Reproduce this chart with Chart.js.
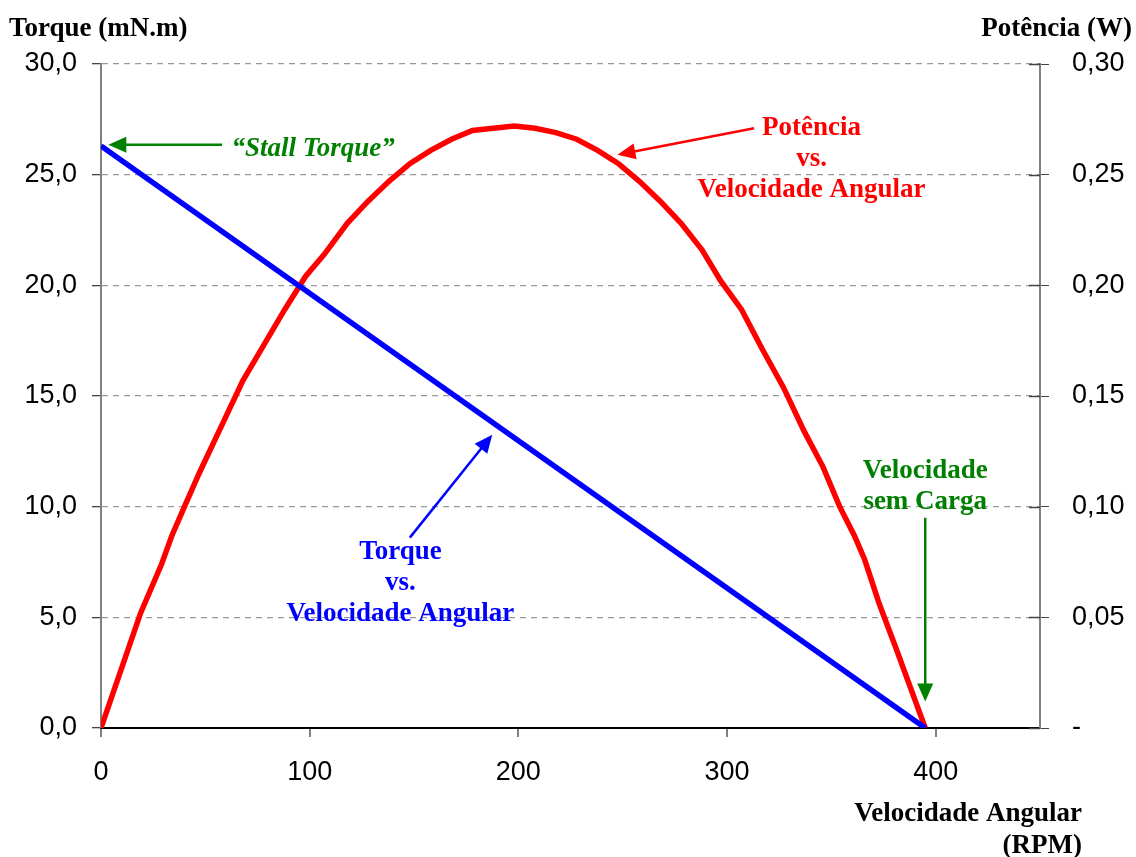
<!DOCTYPE html>
<html>
<head>
<meta charset="utf-8">
<script src="https://cdn.jsdelivr.net/npm/chart.js@4/dist/chart.umd.min.js"></script>
<style>
  html, body { margin: 0; padding: 0; background: #fff; }
  #wrap { width: 1136px; height: 857px; }
</style>
</head>
<body>
<div id="wrap"><canvas id="chart" width="1136" height="857"></canvas></div>
<script>
// Velocidade angular (RPM) / torque (mN.m)
const torqueRpm = [0, 395];
const torqueValues = [26.3, 0];

// Velocidade angular (RPM) / potência (W)
const powerRpm = [0, 19, 29, 34, 40, 47, 59, 68, 78, 88, 98, 107, 118, 128, 138, 148, 158, 168, 178, 188,
   198, 208, 218, 228, 238, 248, 258, 268, 278, 288, 297, 307, 317, 327, 337, 346, 354, 361, 366, 373, 381, 395];
const powerValues = [0, 0.052, 0.074, 0.087, 0.100, 0.115, 0.139, 0.157, 0.173, 0.189, 0.204, 0.214, 0.228, 0.238,
   0.247, 0.255, 0.261, 0.266, 0.270, 0.271, 0.272, 0.271, 0.269, 0.266, 0.261, 0.255, 0.247, 0.238, 0.228, 0.216,
   0.202, 0.189, 0.171, 0.154, 0.134, 0.118, 0.100, 0.087, 0.076, 0.056, 0.036, 0];

// Graduations
const xTicks = [0, 100, 200, 300, 400];
const torqueTicks = [0, 5, 10, 15, 20, 25, 30];
const powerTicks = [0, 0.05, 0.10, 0.15, 0.20, 0.25, 0.30];

const serifBold = 'bold 27px "Liberation Serif", "Times New Roman", serif';
const sansTicks = { family: '"Liberation Sans", Arial, sans-serif', size: 27 };

/* Annotations (coordonnées en unités du graphique : RPM / mN.m) */
const notes = [
   { lines: ['\u201CStall Torque\u201D'], color: '#008000', italic: true, x: 62.5, y: 26.15, align: 'left',
     arrow: [58, 26.35, 3.5, 26.35] },
   { lines: ['Potência', 'vs.', 'Velocidade Angular'], color: '#ff0000', x: 340.5, y: 27.1, align: 'center',
     arrow: [313, 27.1, 247.5, 25.9] },
   { lines: ['Torque', 'vs.', 'Velocidade Angular'], color: '#0000ff', x: 143.5, y: 7.95, align: 'center',
     arrow: [148, 8.6, 187.5, 13.25] },
   { lines: ['Velocidade', 'sem Carga'], color: '#008000', x: 395, y: 11.6, align: 'center',
     arrow: [395, 9.5, 395, 1.2] }
];

function drawArrow(ctx, x1, y1, x2, y2, color) {
   var angle = Math.atan2(y2 - y1, x2 - x1);
   var headLen = 18, headW = 8;
   ctx.save();
   ctx.strokeStyle = color;
   ctx.fillStyle = color;
   ctx.lineWidth = 2.5;
   ctx.beginPath();
   ctx.moveTo(x1, y1);
   ctx.lineTo(x2 - Math.cos(angle) * headLen * 0.8, y2 - Math.sin(angle) * headLen * 0.8);
   ctx.stroke();
   ctx.beginPath();
   ctx.moveTo(x2, y2);
   ctx.lineTo(x2 - Math.cos(angle) * headLen - Math.sin(angle) * headW, y2 - Math.sin(angle) * headLen + Math.cos(angle) * headW);
   ctx.lineTo(x2 - Math.cos(angle) * headLen + Math.sin(angle) * headW, y2 - Math.sin(angle) * headLen - Math.cos(angle) * headW);
   ctx.closePath();
   ctx.fill();
   ctx.restore();
}

const annotationPlugin = {
   id: 'annotations',
   afterDraw(chart) {
      const ctx = chart.ctx;
      const xs = chart.scales.x, ys = chart.scales.y;

      // Graduations de l'axe droit (traversent l'axe)
      ctx.save();
      ctx.strokeStyle = '#444';
      ctx.lineWidth = 1.5;
      powerTicks.forEach(v => {
         var py = Math.round(chart.scales.y1.getPixelForValue(v)) + 0.5;
         ctx.beginPath();
         ctx.moveTo(chart.chartArea.right - 11, py);
         ctx.lineTo(chart.chartArea.right, py);
         ctx.stroke();
      });
      ctx.restore();

      ctx.save();
      ctx.textBaseline = 'middle';
      notes.forEach(n => {
         ctx.font = n.italic ? 'italic ' + serifBold : serifBold;
         ctx.fillStyle = n.color;
         ctx.textAlign = n.align;
         var px = xs.getPixelForValue(n.x);
         var py = ys.getPixelForValue(n.y);
         n.lines.forEach((line, i) => ctx.fillText(line, px, py + i * 31));
         var a = n.arrow;
         drawArrow(ctx, xs.getPixelForValue(a[0]), ys.getPixelForValue(a[1]),
            xs.getPixelForValue(a[2]), ys.getPixelForValue(a[3]), n.color);
      });

      // Titres des axes
      ctx.font = serifBold;
      ctx.fillStyle = '#000';
      ctx.textAlign = 'left';
      ctx.fillText('Torque (mN.m)', 9, 29);
      ctx.textAlign = 'right';
      ctx.fillText('Potência (W)', 1132, 29);
      ctx.fillText('Velocidade Angular', 1082, 814);
      ctx.fillText('(RPM)', 1082, 846);
      ctx.restore();
   }
};

const chart = new Chart(document.getElementById('chart'), {
   type: 'scatter',
   data: {
      datasets: [
         {
            label: 'Torque',
            data: torqueRpm.map((x, i) => ({ x: x, y: torqueValues[i] })),
            yAxisID: 'y',
            showLine: true,
            borderColor: '#0000ff',
            borderWidth: 5.5,
            pointRadius: 0,
            tension: 0
         },
         {
            label: 'Potência',
            data: powerRpm.map((x, i) => ({ x: x, y: powerValues[i] })),
            yAxisID: 'y1',
            showLine: true,
            borderColor: '#ff0000',
            borderWidth: 5.5,
            pointRadius: 0,
            tension: 0
         }
      ]
   },
   options: {
      responsive: false,
      animation: false,
      events: [],
      layout: { padding: { top: 64, left: 0, right: 0, bottom: 0 } },
      plugins: { legend: { display: false }, tooltip: { enabled: false } },
      scales: {
         x: {
            type: 'linear',
            min: 0,
            max: 450,
            afterBuildTicks: scale => { scale.ticks = xTicks.map(v => ({ value: v })); },
            afterFit: scale => { scale.height = 129; },
            ticks: {
               color: '#000',
               font: sansTicks,
               padding: 19,
               maxRotation: 0
            },
            grid: { drawOnChartArea: false, color: '#808080', tickLength: 9, lineWidth: 2 },
            border: { color: '#000', width: 2 }
         },
         y: {
            position: 'left',
            min: 0,
            max: 30,
            afterBuildTicks: scale => { scale.ticks = torqueTicks.map(v => ({ value: v })); },
            afterFit: scale => { scale.width = 101; },
            ticks: {
               color: '#000',
               font: sansTicks,
               padding: 15,
               callback: v => v.toFixed(1).replace('.', ',')
            },
            grid: { color: '#999', lineWidth: 1.3, tickColor: '#444', tickLength: 9 },
            border: { color: '#808080', width: 2, dash: [6, 5] }
         },
         y1: {
            position: 'right',
            min: 0,
            max: 0.30,
            afterBuildTicks: scale => { scale.ticks = powerTicks.map(v => ({ value: v })); },
            afterFit: scale => { scale.width = 96; },
            ticks: {
               color: '#000',
               font: sansTicks,
               padding: 23,
               callback: v => v === 0 ? '-' : v.toFixed(2).replace('.', ',')
            },
            grid: { drawOnChartArea: false, tickColor: '#444', tickLength: 9 },
            border: { color: '#808080', width: 2 }
         }
      }
   },
   plugins: [annotationPlugin]
});
</script>
</body>
</html>
